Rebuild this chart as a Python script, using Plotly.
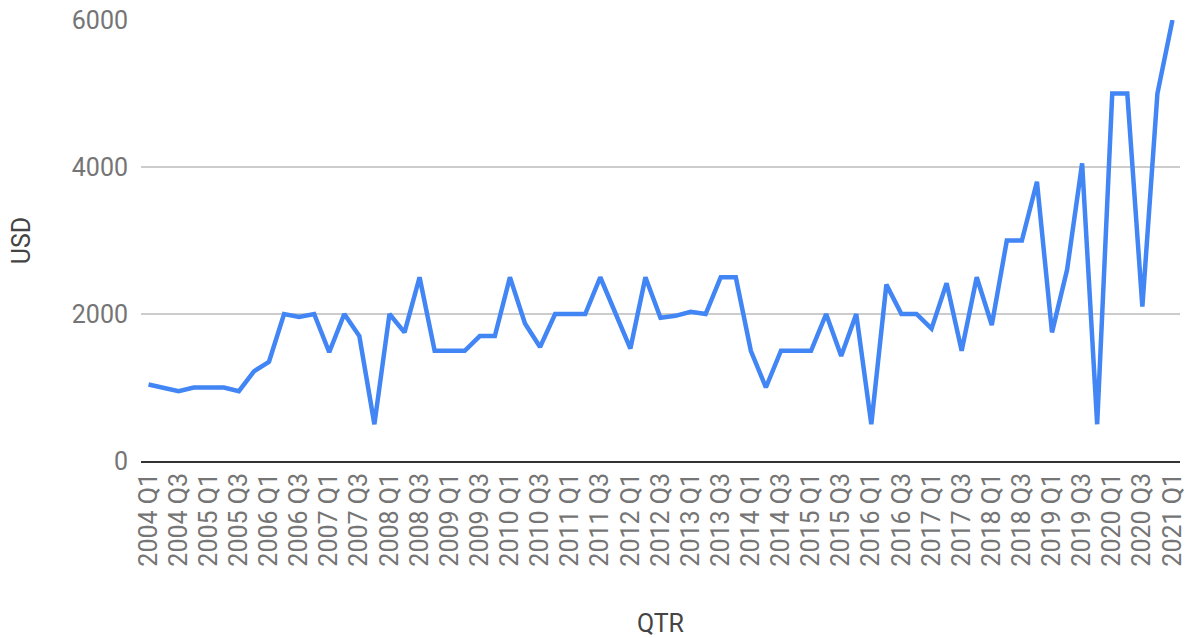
import plotly.graph_objects as go

years = list(range(2004, 2022))
quarters = [f"{y} Q{q}" for y in years for q in (1, 2, 3, 4)][:69]

usd = [
    1040, 1000, 950, 1000, 1000, 1000, 950, 1220, 1350, 2000,
    1960, 2000, 1480, 2000, 1700, 500, 2000, 1750, 2500, 1500,
    1500, 1500, 1700, 1700, 2500, 1870, 1550, 2000, 2000, 2000,
    2500, 2000, 1530, 2500, 1950, 1975, 2030, 2000, 2500, 2500,
    1500, 1000, 1500, 1500, 1500, 2000, 1430, 2000, 500, 2400,
    2000, 2000, 1800, 2420, 1500, 2500, 1850, 3000, 3000, 3800,
    1750, 2600, 4050, 500, 5000, 5000, 2100, 5000, 6000,
]

x_ticks = quarters[::2]
y_ticks = [0, 2000, 4000, 6000]

font_family = "Roboto"
label_color = "#757575"
title_color = "#444444"
fsize = 25

fig = go.Figure(
    go.Scatter(
        x=quarters,
        y=usd,
        mode="lines",
        line=dict(color="#4285F4", width=4.5),
        hoverinfo="x+y",
    )
)

fig.update_layout(
    width=1190,
    height=638,
    margin=dict(l=141, r=10, t=20, b=177),
    paper_bgcolor="white",
    plot_bgcolor="white",
    showlegend=False,
    font=dict(family=font_family, size=fsize, color=label_color),
)

fig.update_xaxes(
    type="category",
    categoryorder="array",
    categoryarray=quarters,
    tickmode="array",
    tickvals=x_ticks,
    ticktext=x_ticks,
    tickangle=-90,
    range=[-0.5, 68.5],
    automargin=False,
    showgrid=False,
    showline=True,
    linecolor="#333333",
    linewidth=2,
    ticks="",
    tickfont=dict(size=fsize, color=label_color),
    title=dict(text="QTR", font=dict(size=fsize, color=title_color), standoff=50),
    zeroline=False,
)

fig.update_yaxes(
    range=[0, 6000.01],
    tickmode="array",
    tickvals=y_ticks,
    ticktext=[str(v) for v in y_ticks],
    automargin=False,
    showgrid=True,
    gridcolor="#cccccc",
    gridwidth=1.5,
    zeroline=False,
    showline=False,
    ticks="",
    ticklabelstandoff=12,
    tickfont=dict(size=fsize, color=label_color),
    title=dict(text="USD", font=dict(size=fsize, color=title_color), standoff=34),
)

fig.write_html(
    "out.html",
    config={"displayModeBar": False},
    post_script="document.body.style.margin='0';document.body.style.overflow='hidden';",
)
